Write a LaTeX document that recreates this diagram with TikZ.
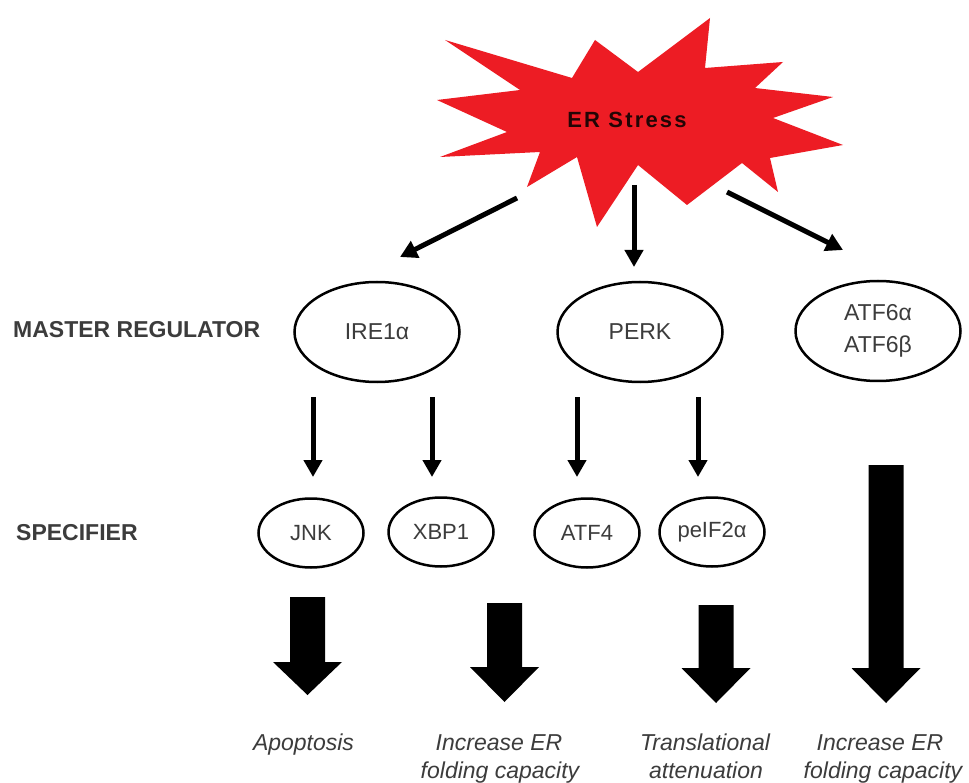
\documentclass[tikz,border=0pt]{standalone}
\usepackage{fontspec}
\setmainfont{Liberation Sans}
\usetikzlibrary{arrows.meta,shapes.geometric}
\definecolor{starred}{RGB}{237,28,36}
\definecolor{stresstext}{RGB}{35,5,5}
\definecolor{txt}{RGB}{60,60,60}
\newcommand\bigarrow[4]{%
  \fill[black] ({#1-17.5},{#2}) -- ({#1+17.5},{#2}) -- ({#1+17.5},{#3}) -- ({#1+34.5},{#3})
    -- ({#1},{#4}) -- ({#1-34.5},{#3}) -- ({#1-17.5},{#3}) -- cycle;}
\begin{document}
\begin{tikzpicture}[x=1pt,y=-1pt,
  ell/.style={draw=black,line width=2.5pt,ellipse,inner sep=0pt,text=txt},
  mreg/.style={ell,minimum width=165pt,minimum height=100pt,font=\fontsize{23}{32}\selectfont,align=center},
  spec/.style={ell,minimum width=105pt,minimum height=69pt,font=\fontsize{22}{26}\selectfont},
  arr/.style={line width=5pt,-{Triangle[length=17pt,width=18pt]}},
  lvl/.style={font=\fontsize{23}{27}\selectfont\bfseries,text=txt,anchor=west,inner sep=0pt},
  outc/.style={font=\fontsize{23}{27}\selectfont\itshape,text=txt,anchor=base,inner sep=0pt}
]
\useasboundingbox[fill=white] (0,0) rectangle (969,783);

% star
\fill[starred] (445,40) -- (572,78) -- (595,40) -- (638,72) -- (710,18) -- (705,68)
  -- (783,62) -- (755,88) -- (833,97) -- (773,118) -- (843,145) -- (770,158)
  -- (778,192) -- (742,163) -- (687,205) -- (638,165) -- (597,227) -- (577,157)
  -- (527,187) -- (540,152) -- (440,157) -- (507,132) -- (437,100) -- (520,90) -- cycle;
\node[text=stresstext,font=\fontsize{22}{26}\selectfont\bfseries\addfontfeatures{LetterSpace=10}] (stress) at (627,120) {ER Stress};

% level labels
\node[lvl] (master) at (13,330) {MASTER REGULATOR};
\node[lvl] (specifier) at (16,533) {SPECIFIER};

% master regulators
\node[mreg] (ire) at (377,332) {IRE1α};
\node[mreg] (perk) at (640,332) {PERK};
\node[mreg] (atf6) at (878,331) {ATF6α\\ATF6β};

% specifiers
\node[spec] (jnk) at (311,533) {JNK};
\node[spec] (xbp) at (441,532) {XBP1};
\node[spec] (atf4) at (587,533) {ATF4};
\node[spec] (peif) at (712,532) {peIF2α};

% arrows from stress
\coordinate (s1) at (517,198); \coordinate (e1) at (400,257);
\coordinate (s2) at (634,185); \coordinate (e2) at (634,267);
\coordinate (s3) at (727,192); \coordinate (e3) at (843,250);
\draw[arr] (s1) -- (e1);
\draw[arr] (s2) -- (e2);
\draw[arr] (s3) -- (e3);

% arrows to specifiers
\coordinate (j1) at (313,397); \coordinate (j2) at (313,477);
\coordinate (x1) at (432,397); \coordinate (x2) at (432,477);
\coordinate (a1) at (577,397); \coordinate (a2) at (577,477);
\coordinate (p1) at (698,397); \coordinate (p2) at (698,477);
\draw[arr] (j1) -- (j2);
\draw[arr] (x1) -- (x2);
\draw[arr] (a1) -- (a2);
\draw[arr] (p1) -- (p2);

% big arrows
\bigarrow{307.5}{597}{662}{695}
\bigarrow{504.5}{603}{667}{702}
\bigarrow{716}{605}{668}{703}
\bigarrow{886}{465}{668}{703}

% outcomes
\node[outc] (apop) at (303.5,750) {Apoptosis};
\node[outc] (inc1a) at (499,750) {Increase ER};
\node[outc] (inc1b) at (500,778) {folding capacity};
\node[outc] (tr1) at (705,750) {Translational};
\node[outc] (tr2) at (706,778) {attenuation};
\node[outc] (inc2a) at (880,750) {Increase ER};
\node[outc] (inc2b) at (883,778) {folding capacity};
\end{tikzpicture}
\end{document}
